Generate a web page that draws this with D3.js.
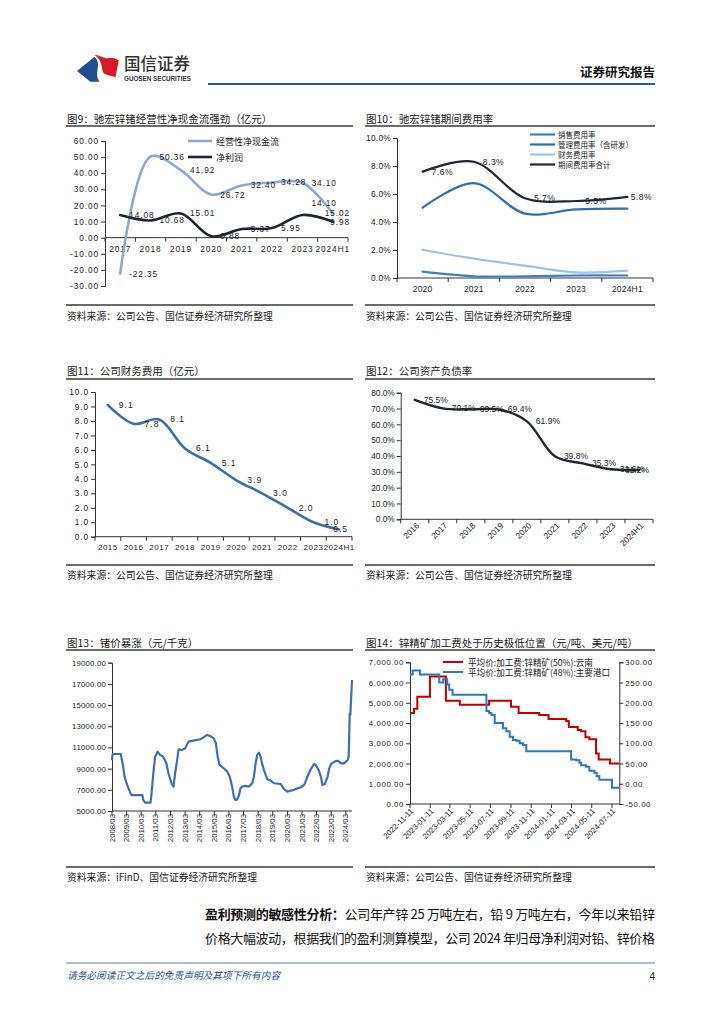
<!DOCTYPE html>
<html><head><meta charset="utf-8">
<script src="https://cdn.jsdelivr.net/npm/d3@7"></script>
<style>
body{margin:0;background:#fff;}
svg{display:block;}
</style></head><body>
<svg id="page" width="724" height="1024"></svg>
<script>
// ---------------- DATA ----------------
const years9 = ["2017","2018","2019","2020","2021","2022","2023","2024H1"];
const ocf9 = [-22.35,50.36,41.92,26.72,32.40,34.28,34.10,15.02];
const np9 = [14.08,10.68,15.01,0.88,5.37,5.95,14.10,9.98];
const yTicks9 = [-30,-20,-10,0,10,20,30,40,50,60];
const legend9 = ["经营性净现金流","净利润"];

const years10 = ["2020","2021","2022","2023","2024H1"];
const sales10 = [0.45,0.12,0.12,0.18,0.18];
const admin10 = [5.02,6.78,4.60,4.90,4.95];
const fin10 = [2.02,1.38,0.88,0.40,0.52];
const total10 = [7.6,8.3,5.7,5.5,5.8];
const yTicks10 = [0,2,4,6,8,10];
const legend10 = ["销售费用率","管理费用率（含研发）","财务费用率","期间费用率合计"];

const years11 = ["2015","2016","2017","2018","2019","2020","2021","2022","2023","2024H1"];
const fee11 = [9.1,7.8,8.1,6.1,5.1,3.9,3.0,2.0,1.0,0.5];
const yTicks11 = [0,1,2,3,4,5,6,7,8,9,10];

const years12 = ["2016","2017","2018","2019","2020","2021","2022","2023","2024H1"];
const debt12 = [75.5,70.1,69.5,69.4,61.9,39.8,35.3,31.6,31.2];
const yTicks12 = [0,10,20,30,40,50,60,70,80];

const ge13 = [["2008-03-01",9800],["2008-03-15",10380],["2008-10-05",10380],["2008-12-05",9200],["2009-01-10",8250],["2009-03-01",7600],["2009-05-20",6830],["2009-07-01",6500],["2010-04-01",6500],["2010-04-20",6050],["2010-06-01",5800],["2010-10-20",5800],["2010-11-15",6700],["2011-01-01",8700],["2011-02-10",10100],["2011-04-15",10600],["2011-06-15",10300],["2011-09-01",10130],["2011-11-20",9500],["2012-01-10",8560],["2012-04-01",7550],["2012-05-15",7300],["2012-06-25",8560],["2012-08-10",9660],["2012-09-20",10820],["2012-12-10",10760],["2013-03-01",10900],["2013-05-25",11550],["2013-09-25",11640],["2014-03-15",11770],["2014-06-05",11950],["2014-09-01",12180],["2014-11-20",12080],["2015-02-15",11860],["2015-04-10",11390],["2015-05-25",10130],["2015-07-10",9350],["2015-10-25",9030],["2016-01-15",8720],["2016-03-20",8250],["2016-05-20",7300],["2016-07-01",6360],["2016-08-10",6040],["2016-09-25",6100],["2016-11-01",6420],["2016-12-15",7140],["2017-01-25",7300],["2017-04-20",7370],["2017-07-10",7300],["2017-10-05",7620],["2017-11-15",8250],["2017-12-28",9500],["2018-02-05",10290],["2018-03-20",10510],["2018-05-01",10130],["2018-06-15",9350],["2018-07-25",8870],["2018-10-15",8000],["2019-01-05",7870],["2019-04-01",7620],["2019-09-15",7550],["2019-12-10",7060],["2020-03-01",6830],["2020-05-25",6930],["2020-08-15",7000],["2020-11-05",7140],["2021-01-30",7240],["2021-04-25",7460],["2021-07-15",8250],["2021-10-05",8940],["2021-12-30",9440],["2022-02-10",9350],["2022-05-05",8720],["2022-06-15",8250],["2022-07-25",7460],["2022-09-25",7550],["2022-12-01",8250],["2023-01-10",9030],["2023-02-25",9440],["2023-05-20",9660],["2023-08-10",9750],["2023-11-01",9500],["2024-01-20",9500],["2024-04-15",9820],["2024-05-10",10130],["2024-06-05",14200],["2024-06-20",14060],["2024-08-01",17360]];
const xTicks13 = ["2008/03","2009/03","2010/03","2011/03","2012/03","2013/03","2014/03","2015/03","2016/03","2017/03","2018/03","2019/03","2020/03","2021/03","2022/03","2023/03","2024/03"];
const yTicks13 = [5000,7000,9000,11000,13000,15000,17000,19000];

const yunnan14 = [["2022-11-11",4500],["2022-11-23",4700],["2022-12-03",5300],["2023-01-10",6300],["2023-02-27",5100],["2023-04-10",4900],["2023-07-07",5100],["2023-09-11",4800],["2023-10-04",4500],["2023-12-05",4400],["2024-01-02",4200],["2024-02-24",4100],["2024-03-03",3800],["2024-03-30",3650],["2024-04-09",3600],["2024-04-22",3300],["2024-05-04",3200],["2024-05-24",2500],["2024-06-01",2200],["2024-07-05",2000],["2024-08-02",2000]];
const port14 = [["2022-11-11",270],["2022-11-19",280],["2022-12-11",270],["2023-02-07",250],["2023-02-19",258],["2023-03-03",245],["2023-03-09",232],["2023-03-19",220],["2023-06-29",180],["2023-07-07",175],["2023-07-14",170],["2023-07-24",150],["2023-08-18",137],["2023-08-28",130],["2023-09-07",116],["2023-09-17",108],["2023-09-27",106],["2023-10-07",100],["2023-10-17",96],["2023-10-27",80],["2024-03-10",60],["2024-03-25",58],["2024-04-04",52],["2024-04-09",46],["2024-04-24",42],["2024-05-04",32],["2024-05-19",27],["2024-05-26",19],["2024-06-03",10],["2024-07-11",-10],["2024-08-02",-10]];
const xTicks14 = ["2022-11-11","2023-01-11","2023-03-11","2023-05-11","2023-07-11","2023-09-11","2023-11-11","2024-01-11","2024-03-11","2024-05-11","2024-07-11"];
const yTicks14L = [0,1000,2000,3000,4000,5000,6000,7000];
const yTicks14R = [-50,0,50,100,150,200,250,300];
const legend14 = ["平均价:加工费:锌精矿(50%):云南","平均价:加工费:锌精矿(48%):主要港口"];

// ---------------- HELPERS ----------------
const CJK = '"Noto Sans CJK SC","Noto Sans",sans-serif';
const NUM = '"Liberation Sans",Arial,sans-serif';
const svg = d3.select("#page");
const parse = d3.timeParse("%Y-%m-%d");
const parse13 = d3.timeParse("%Y/%m");

function txt(g, x, y, s, size, opts = {}) {
  const t = g.append("text").attr("x", x).attr("y", y).attr("font-size", size)
    .attr("font-family", opts.font || CJK).attr("fill", opts.fill || "#222")
    .attr("dominant-baseline", "central").attr("text-anchor", opts.anchor || "start")
    .text(s);
  if (opts.weight) t.attr("font-weight", opts.weight);
  if (opts.ls) t.attr("letter-spacing", opts.ls);
  return t;
}
function hline(g, x0, x1, y, color, w) {
  g.append("line").attr("x1", x0).attr("x2", x1).attr("y1", y).attr("y2", y)
    .attr("stroke", color).attr("stroke-width", w);
}
function panel(x0, x1, yT, yR, ySR, yS, title, src) {
  txt(svg, x0 + 1, yT, title, 10.5, {fill: "#1a1a1a"});
  hline(svg, x0, x1, yR, "#3a3a3a", 1.4);
  hline(svg, x0, x1, ySR, "#3a3a3a", 1.4);
  txt(svg, x0 + 1, yS, src, 9.8, {fill: "#1a1a1a"});
}
function yAxis(scale, x, ticks, fmt, side, size, ls) {
  const ax = (side === "right" ? d3.axisRight(scale) : d3.axisLeft(scale))
    .tickValues(ticks).tickFormat(fmt).tickSize(4).tickPadding(2);
  const g = svg.append("g").attr("transform", `translate(${x},0)`).call(ax);
  g.select(".domain").attr("stroke", "#333").attr("stroke-width", 1);
  g.selectAll(".tick line").attr("stroke", "#333");
  g.selectAll(".tick text").attr("font-family", NUM).attr("font-size", size)
    .attr("fill", "#222").attr("letter-spacing", ls || 0);
  return g;
}
function bandAxis(xs, y, labelY, size, ls, rotate) {
  const g = svg.append("g");
  const [r0, r1] = xs.range();
  hline(g, r0, r1, y, "#333", 1);
  const bw = xs.bandwidth();
  xs.domain().forEach((c, i) => {
    const bx = r0 + i * bw;
    g.append("line").attr("x1", bx + bw).attr("x2", bx + bw).attr("y1", y).attr("y2", y + 4).attr("stroke", "#333");
    if (i === 0) g.append("line").attr("x1", bx).attr("x2", bx).attr("y1", y).attr("y2", y + 4).attr("stroke", "#333");
    const cx = xs(c) + bw / 2;
    if (rotate) {
      g.append("text").attr("transform", `translate(${cx + 3},${labelY}) rotate(${rotate})`)
        .attr("text-anchor", "end").attr("dominant-baseline", "central")
        .attr("font-family", NUM).attr("font-size", size).attr("fill", "#222").text(c);
    } else {
      txt(g, cx, labelY, c, size, {font: NUM, anchor: "middle", ls: ls});
    }
  });
  return g;
}
function smooth(points, color, w) {
  svg.append("path").attr("d", d3.line().curve(d3.curveCatmullRom.alpha(0.5))(points))
    .attr("fill", "none").attr("stroke", color).attr("stroke-width", w)
    .attr("stroke-linecap", "round").attr("stroke-linejoin", "round");
}
function labels(points, texts, dx, maxX, size, ls, above) {
  points.forEach((p, i) => {
    const t = txt(svg, p[0] + dx, p[1] + ((above && above[i]) ? -12 : 0), texts[i], size, {font: NUM, ls: ls});
    const w = t.node().getComputedTextLength();
    if (p[0] + dx + w > maxX) t.attr("x", maxX - w);
  });
}

// ---------------- HEADER ----------------
svg.append("path").attr("fill", "#1d4f8e")
  .attr("d", "M77,71 L94.3,57 C103,64 93,72 99.6,81.8 L90.5,81.8 Z");
svg.append("path").attr("fill", "#d71a2a")
  .attr("d", "M95,55.2 C99,54.5 102,58 106,58.2 C110,58.4 114,57 118.8,60.5 L115.5,77 C111,76 107,75 103.8,73.5 C101,68 103,61 95,55.2 Z");
txt(svg, 124, 63, "国信证券", 16.5, {fill: "#333", weight: 500});
txt(svg, 124, 78.5, "GUOSEN SECURITIES", 6.3, {font: NUM, fill: "#333", weight: "bold"});
txt(svg, 655, 71, "证券研究报告", 12.5, {anchor: "end", weight: "bold", fill: "#111"});
hline(svg, 208, 655, 84, "#2b5c92", 2.2);

// ---------------- PANELS ----------------
const SRC = "资料来源：公司公告、国信证券经济研究所整理";
panel(66, 353, 118, 126, 305, 316, "图9：驰宏锌锗经营性净现金流强劲（亿元）", SRC);
panel(365, 655, 118, 126, 305, 316, "图10：驰宏锌锗期间费用率", SRC);
panel(66, 353, 370, 379, 565, 575, "图11：公司财务费用（亿元）", SRC);
panel(365, 655, 370, 379, 565, 575, "图12：公司资产负债率", SRC);
panel(66, 353, 642, 650, 867, 877, "图13：锗价暴涨（元/千克）", "资料来源：iFinD、国信证券经济研究所整理");
panel(365, 655, 642, 650, 867, 877, "图14：锌精矿加工费处于历史极低位置（元/吨、美元/吨）", SRC);

// ---------------- CHART 9 ----------------
{
  const x = d3.scaleBand().domain(years9).range([105, 348]);
  const y = d3.scaleLinear().domain([-30, 60]).range([286, 141]);
  const cx = c => x(c) + x.bandwidth() / 2;
  yAxis(y, 105, yTicks9, d => d.toFixed(2), "left", 8.3, 0.9);
  bandAxis(x, y(0), y(0) + 11, 8.3, 0.9);
  const pO = years9.map((c, i) => [cx(c), y(ocf9[i])]);
  const pN = years9.map((c, i) => [cx(c), y(np9[i])]);
  smooth(pO, "#8ea8cc", 2.6);
  smooth(pN, "#1c2533", 2.6);
  labels(pO, ocf9.map(v => v.toFixed(2)), 9, 350, 8.3, 0.9);
  labels(pN, np9.map(v => v.toFixed(2)), 9, 350, 8.3, 0.9, years9.map(c => c === "2023"));
  [["#8ea8cc", 141], ["#1c2533", 157]].forEach((d, i) => {
    hline(svg, 188, 212, d[1], d[0], 2.6);
    txt(svg, 216, d[1], legend9[i], 9, {fill: "#222"});
  });
}

// ---------------- CHART 10 ----------------
{
  const x = d3.scaleBand().domain(years10).range([397, 653]);
  const y = d3.scaleLinear().domain([0, 10]).range([278, 138]);
  const cx = c => x(c) + x.bandwidth() / 2;
  yAxis(y, 397, yTicks10, d => d.toFixed(1) + "%", "left", 8.3, 0.3);
  bandAxis(x, 278, 289, 8.5, 0.2);
  const series = [[sales10, "#3d7fc4"], [admin10, "#2e6fb3"], [fin10, "#a3c1e6"], [total10, "#1e2736"]];
  series.forEach(s => smooth(years10.map((c, i) => [cx(c), y(s[0][i])]), s[1], 2.2));
  const pT = years10.map((c, i) => [cx(c), y(total10[i])]);
  labels(pT, total10.map(v => v.toFixed(1) + "%"), 9, 652, 8.5, 0.5);
  series.forEach((s, i) => {
    const ly = 134.5 + i * 10;
    hline(svg, 530, 555, ly, s[1], 2.2);
    txt(svg, 558, ly, legend10[i], 7.5, {fill: "#222"});
  });
}

// ---------------- CHART 11 ----------------
{
  const x = d3.scaleBand().domain(years11).range([95, 352]);
  const y = d3.scaleLinear().domain([0, 10]).range([536.7, 392]);
  const cx = c => x(c) + x.bandwidth() / 2;
  yAxis(y, 95, yTicks11, d => d.toFixed(1), "left", 8.3, 0.9);
  bandAxis(x, 536.7, 547, 8.0, 0.5);
  const p = years11.map((c, i) => [cx(c), y(fee11[i])]);
  smooth(p, "#3d6ea8", 2.6);
  labels(p, fee11.map(v => v.toFixed(1)), 11, 348, 8.5, 1);
}

// ---------------- CHART 12 ----------------
{
  const x = d3.scaleBand().domain(years12).range([400.7, 653]);
  const y = d3.scaleLinear().domain([0, 80]).range([519.3, 392.7]);
  const cx = c => x(c) + x.bandwidth() / 2;
  yAxis(y, 400.7, yTicks12, d => d.toFixed(1) + "%", "left", 8.3, 0);
  bandAxis(x, 519.3, 524, 8.3, 0, -45);
  const p = years12.map((c, i) => [cx(c), y(debt12[i])]);
  smooth(p, "#1e2736", 2.4);
  labels(p, debt12.map(v => v.toFixed(1) + "%"), 9, 649, 8.5, 0);
}

// ---------------- CHART 13 ----------------
{
  const data = ge13.map(d => [parse(d[0]), d[1]]);
  const x = d3.scaleTime().domain([parse("2008-03-01"), parse("2024-08-01")]).range([112, 352]);
  const y = d3.scaleLinear().domain([5000, 19000]).range([811, 662.7]);
  yAxis(y, 112, yTicks13, d => d.toFixed(2), "left", 7.8, 0.2);
  const g = svg.append("g");
  hline(g, 112, 352, 811, "#333", 1);
  xTicks13.forEach(t => {
    const px = x(parse13(t));
    g.append("line").attr("x1", px).attr("x2", px).attr("y1", 811).attr("y2", 815).attr("stroke", "#333");
    g.append("text").attr("transform", `translate(${px},814) rotate(-90)`)
      .attr("text-anchor", "end").attr("dominant-baseline", "central")
      .attr("font-family", NUM).attr("font-size", 7.8).attr("fill", "#222").text(t);
  });
  svg.append("path").attr("d", d3.line().x(d => x(d[0])).y(d => y(d[1]))(data))
    .attr("fill", "none").attr("stroke", "#3f6fb3").attr("stroke-width", 2.2).attr("stroke-linejoin", "round");
}

// ---------------- CHART 14 ----------------
{
  const x = d3.scaleTime().domain([parse("2022-11-11"), parse("2024-08-02")]).range([410, 619.3]);
  const yL = d3.scaleLinear().domain([0, 7000]).range([804, 662.3]);
  const yR = d3.scaleLinear().domain([-50, 300]).range([804, 662.3]);
  yAxis(yL, 410, yTicks14L, d3.format(",.2f"), "left", 7.8, 0.6);
  yAxis(yR, 619.3, yTicks14R, d => d.toFixed(2), "right", 7.8, 0.6);
  const g = svg.append("g");
  hline(g, 410, 619.3, 804, "#333", 1);
  xTicks14.forEach(t => {
    const px = x(parse(t));
    g.append("line").attr("x1", px).attr("x2", px).attr("y1", 804).attr("y2", 808).attr("stroke", "#333");
    g.append("text").attr("transform", `translate(${px + 2},810) rotate(-45)`)
      .attr("text-anchor", "end").attr("dominant-baseline", "central")
      .attr("font-family", NUM).attr("font-size", 7.8).attr("fill", "#222").text(t);
  });
  svg.append("path").attr("d", d3.line().curve(d3.curveStepAfter).x(d => x(parse(d[0]))).y(d => yL(d[1]))(yunnan14))
    .attr("fill", "none").attr("stroke", "#c00000").attr("stroke-width", 2);
  svg.append("path").attr("d", d3.line().curve(d3.curveStepAfter).x(d => x(parse(d[0]))).y(d => yR(d[1]))(port14))
    .attr("fill", "none").attr("stroke", "#2e78bd").attr("stroke-width", 2);
  [["#c00000", 662], ["#2e78bd", 672]].forEach((d, i) => {
    hline(svg, 443, 463, d[1], d[0], 2);
    txt(svg, 468, d[1], legend14[i], 8.6, {fill: "#222"});
  });
}

// ---------------- BODY TEXT & FOOTER ----------------
{
  const t1 = svg.append("text").attr("x", 205).attr("y", 913).attr("font-family", CJK)
    .attr("font-size", 13).attr("fill", "#111").attr("dominant-baseline", "central")
    .attr("textLength", 450).attr("lengthAdjust", "spacing");
  t1.append("tspan").attr("font-weight", "bold").text("盈利预测的敏感性分析：");
  t1.append("tspan").text("公司年产锌 25 万吨左右，铅 9 万吨左右，今年以来铅锌");
  svg.append("text").attr("x", 205).attr("y", 937.5).attr("font-family", CJK)
    .attr("font-size", 13).attr("fill", "#111").attr("dominant-baseline", "central")
    .attr("textLength", 450).attr("lengthAdjust", "spacing")
    .text("价格大幅波动，根据我们的盈利测算模型，公司 2024 年归母净利润对铅、锌价格");
  hline(svg, 66, 655, 963, "#5b7ea6", 1.2);
  txt(svg, 67, 975, "请务必阅读正文之后的免责声明及其项下所有内容", 9.7, {fill: "#2a5288"}).attr("font-style", "italic");
  txt(svg, 655, 976, "4", 10, {font: NUM, anchor: "end", fill: "#222"});
}
</script>
</body></html>
